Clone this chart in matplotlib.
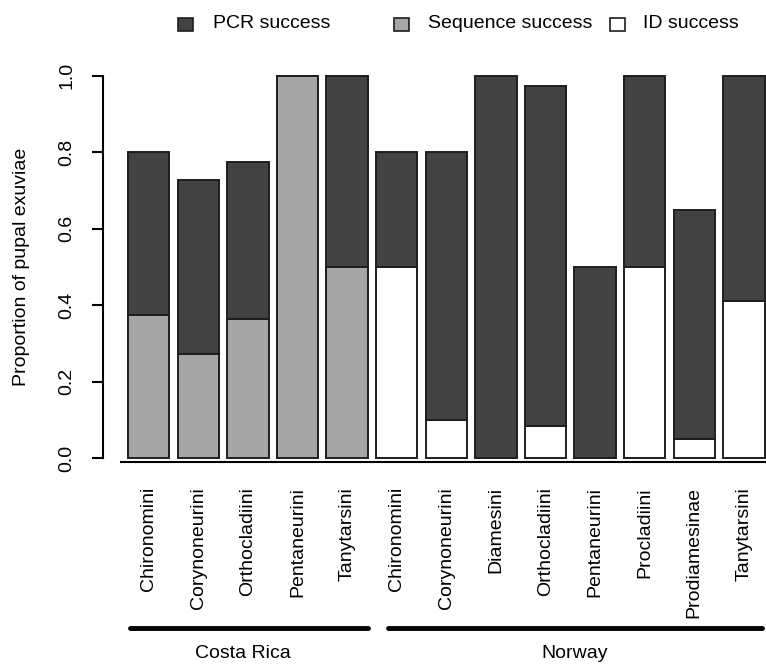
import numpy as np
import matplotlib
matplotlib.use("Agg")
import matplotlib.pyplot as plt
from matplotlib.patches import Rectangle
from matplotlib.transforms import blended_transform_factory

plt.rcParams["font.family"] = ["Liberation Sans", "DejaVu Sans"]

# data
CR_TAXA = ["Chironomini", "Corynoneurini", "Orthocladiini", "Pentaneurini", "Tanytarsini"]
CR_PCR = [0.80, 0.727, 0.773, 1.00, 1.00]
CR_SEQ = [0.375, 0.273, 0.364, 1.00, 0.50]

NO_TAXA = ["Chironomini", "Corynoneurini", "Diamesini", "Orthocladiini",
           "Pentaneurini", "Procladiini", "Prodiamesinae", "Tanytarsini"]
NO_PCR = [0.80, 0.80, 1.00, 0.973, 0.50, 1.00, 0.65, 1.00]
NO_ID = [0.50, 0.10, 0.00, 0.083, 0.00, 0.50, 0.05, 0.41]

GROUPS = ["Costa Rica", "Norway"]
LEGEND_LABELS = ["PCR success", "Sequence success", "ID success"]

DARK = "#424242"
GREY = "#a6a6a6"
WHITE = "#ffffff"
EDGE = "#1e1e1e"
FS = 14

W, H = 766, 665

taxa = CR_TAXA + NO_TAXA
pcr = np.array(CR_PCR + NO_PCR)
lower = np.array(CR_SEQ + NO_ID)
lower_cols = [GREY] * len(CR_TAXA) + [WHITE] * len(NO_TAXA)
x = np.arange(len(taxa))

fig = plt.figure(figsize=(W / 100, H / 100), dpi=100)
ax = fig.add_axes([103 / W, 1 - 473.3 / H, 1 - 103 / W, (473.3 - 60.4) / H])

bw = 1 / 1.2
ax.bar(x, lower, width=bw, color=lower_cols, edgecolor=EDGE, linewidth=1.4, zorder=2)
ax.bar(x, pcr - lower, bottom=lower, width=bw, color=DARK, edgecolor=EDGE,
       linewidth=1.4, zorder=2)

ax.set_xlim(-0.921, 12.446)
ax.set_ylim(-0.04, 1.04)

for s in ("top", "right", "bottom"):
    ax.spines[s].set_visible(False)
ax.spines["left"].set_bounds(0, 1)
ax.spines["left"].set_linewidth(1.5)
ax.set_yticks([0, 0.2, 0.4, 0.6, 0.8, 1.0])
ax.set_yticklabels(["0.0", "0.2", "0.4", "0.6", "0.8", "1.0"])
ax.tick_params(axis="y", direction="out", length=8, width=1.5, pad=12,
               labelsize=FS, labelrotation=90)
for lab in ax.get_yticklabels():
    lab.set_va("center")
ax.set_xticks([])

# baseline under the bars
ax.plot([-0.58, 12.446], [-0.0105, -0.0105], color="black", lw=1.5,
        clip_on=False, solid_capstyle="butt")

fig.text(22 / W, 1 - 266.5 / H, "Proportion of pupal exuviae", rotation=90,
         ha="center", va="center", fontsize=FS)

# category labels
tr = blended_transform_factory(ax.transData, fig.transFigure)
for xi, t in zip(x, taxa):
    ax.text(xi, 1 - 487 / H, t, rotation=90, ha="center", va="top",
            fontsize=FS, transform=tr)

# group lines and labels
spans = [(-0.38, 4.42), (4.82, 12.36)]
label_x = [1.9, 8.59]
for (a, b), lx, g in zip(spans, label_x, GROUPS):
    ax.plot([a, b], [1 - 628 / H] * 2, color="black", lw=3.5, transform=tr,
            clip_on=False, solid_capstyle="round")
    ax.text(lx, 1 - 653 / H, g, ha="center", va="center",
            fontsize=FS, transform=tr)

# legend drawn by hand (R-style horizontal legend)
sq_x = [178, 394, 610]
tx_x = [213, 428, 643]
for sx, tx, lab, col in zip(sq_x, tx_x, LEGEND_LABELS, [DARK, GREY, WHITE]):
    fig.add_artist(Rectangle((sx / W, 1 - 31 / H), 15 / W, 13 / H,
                             transform=fig.transFigure, facecolor=col,
                             edgecolor=EDGE, linewidth=1.2))
    fig.text(tx / W, 1 - 24 / H, lab, ha="left", va="center", fontsize=FS)

fig.savefig("out.png", dpi=100)
